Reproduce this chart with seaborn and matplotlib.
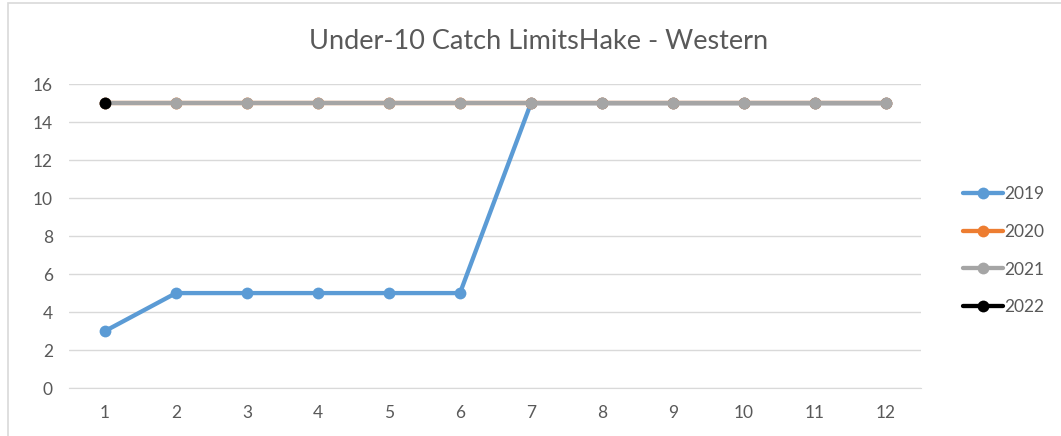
import pandas as pd
import numpy as np
import seaborn as sns
import matplotlib.pyplot as plt
from matplotlib.patches import Rectangle

# Данные графика
months = list(range(1, 13))
y2019 = [3, 5, 5, 5, 5, 5, 15, 15, 15, 15, 15, 15]
y2020 = [15, 15, 15, 15, 15, 15, 15, 15, 15, 15, 15, 15]
y2021 = [15, 15, 15, 15, 15, 15, 15, 15, 15, 15, 15, 15]
y2022 = [15] + [np.nan] * 11
years = ["2019", "2020", "2021", "2022"]
colors = ["#5B9BD5", "#ED7D31", "#A5A5A5", "#000000"]

sns.set_style("white")
plt.rcParams['font.family'] = ['Lato', 'DejaVu Sans']

df = pd.DataFrame({"Month": months * 4,
                   "Value": y2019 + y2020 + y2021 + y2022,
                   "Year": [y for y in years for _ in months]})

fig = plt.figure(figsize=(10.61, 4.36), dpi=100)
ax = fig.add_axes([0.0655, 0.110, 0.803, 0.697])

sns.lineplot(data=df, x="Month", y="Value", hue="Year", palette=colors,
             marker="o", markersize=8.5, markeredgewidth=0, linewidth=3.1,
             ax=ax, legend=False)

ax.set_xlim(0.5, 12.5)
ax.set_ylim(0, 16)
ax.set_xticks(months)
ax.set_yticks(range(0, 17, 2))
ax.yaxis.grid(True, color="#D9D9D9", linewidth=1)
ax.set_axisbelow(True)
for s in ["top", "right", "left"]:
    ax.spines[s].set_visible(False)
ax.spines["bottom"].set_color("#D9D9D9")
ax.tick_params(axis="both", length=0, labelsize=12.5, labelcolor="#595959")
ax.tick_params(axis="y", pad=12)
ax.tick_params(axis="x", pad=12)
ax.set_xlabel("")
ax.set_ylabel("")

fig.text(0.508, 0.905, "Under-10 Catch LimitsHake - Western", ha="center",
         va="center", fontsize=19.5, color="#595959")

handles = [plt.Line2D([], [], color=c, linewidth=3.1, marker="o", markersize=8.5,
                      markeredgewidth=0) for c in colors]
fig.legend(handles, years, loc="center left", bbox_to_anchor=(0.893, 0.425),
           frameon=False, fontsize=12.5, labelcolor="#595959", handlelength=2.3,
           handletextpad=0.05, labelspacing=1.25)

fig.patches.append(Rectangle((8 / 1061, -0.1), 1.2, 1.1 - 3 / 436,
                             transform=fig.transFigure, fill=False,
                             edgecolor="#D9D9D9", linewidth=1.2))

plt.savefig("out.png", dpi=100)
